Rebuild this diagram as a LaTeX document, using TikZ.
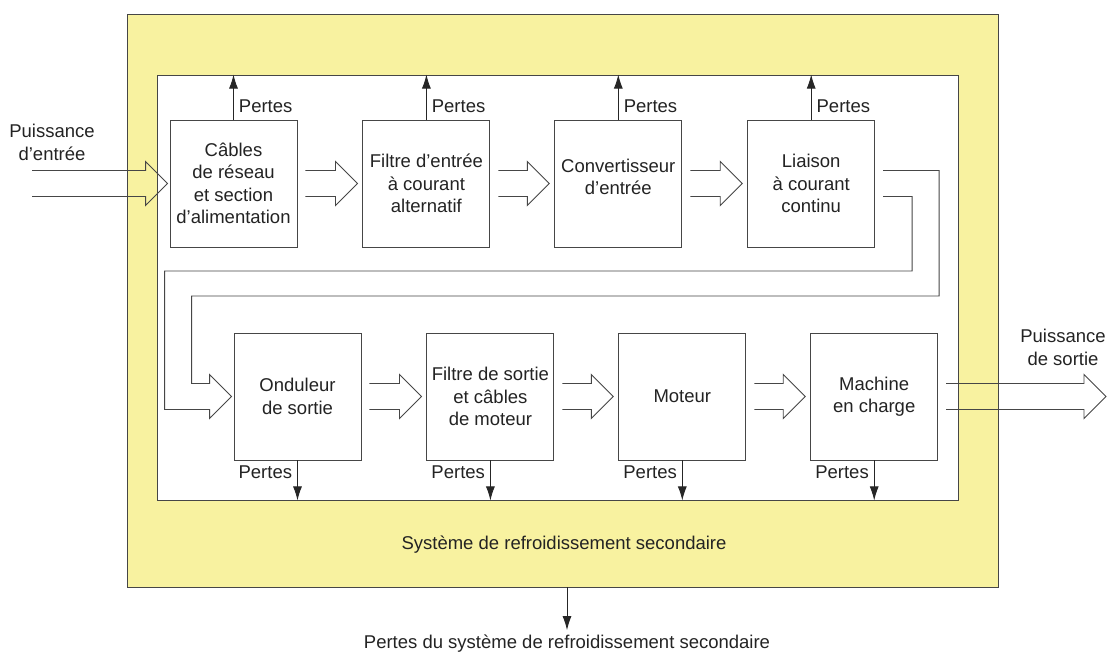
\documentclass[tikz,border=0pt]{standalone}
\usepackage{fontspec}
\setmainfont{Liberation Sans}
\usepackage{tikz}
\usetikzlibrary{positioning,calc,arrows.meta}
\definecolor{coolYellow}{RGB}{248,242,160}
\definecolor{lineGray}{RGB}{70,70,70}
\definecolor{textDark}{RGB}{35,35,35}

% hollow power-flow arrow: start point, its x-offset, target point, x-offset of the tip
\newcommand\flowarrow[4]{%
  \draw[flow] ($(#1)+(#2,-13)$) -- ($(#3)+(#4-22,-13)$) -- ++(0,-9)
    -- ($(#3)+(#4,0)$) -- ($(#3)+(#4-22,22)$) -- ++(0,-9) -- ($(#1)+(#2,13)$);}

\begin{document}
\begin{tikzpicture}[
  x=1pt,y=-1pt,
  font=\fontsize{18.5}{22.3}\selectfont,
  text=textDark,
  coolbox/.style={rectangle,draw=lineGray,fill=coolYellow,line width=0.9pt,minimum width=871pt,minimum height=573pt},
  innerbox/.style={rectangle,draw=lineGray,fill=white,line width=0.9pt,minimum width=801pt,minimum height=425pt},
  block/.style={rectangle,draw=lineGray,fill=white,line width=0.9pt,minimum width=127pt,minimum height=127pt,inner sep=1pt,align=center},
  flow/.style={draw=lineGray,line width=0.9pt},
  loss/.style={-{Latex[length=14pt,width=9pt]},draw=black!85,line width=0.9pt},
  lbl/.style={inner sep=5pt,align=center}
]
  \useasboundingbox (0,0) rectangle (1108,653);

  % cooling enclosure
  \node[coolbox] (cool) at (562.5,300.5) {};
  \node[innerbox] (inner) at (557.5,287.5) {};
  \node (sys) at (564,545) {Système de refroidissement secondaire};

  % upper chain
  \node[block] (cab) at (233.5,183.5) {Câbles\\de réseau\\et section\\d’alimentation};
  \node[block,right=65pt of cab] (fil) {Filtre d’entrée\\à courant\\alternatif};
  \node[block,right=64pt of fil,text depth=14pt] (conv) {Convertisseur\\d’entrée};
  \node[block,right=65pt of conv] (liai) {Liaison\\à courant\\continu};

  % lower chain
  \node[block] (ond) at (297.5,396.5) {Onduleur\\de sortie};
  \node[block,right=65pt of ond] (fsor) {Filtre de sortie\\et câbles\\de moteur};
  \node[block,right=64pt of fsor] (mot) {Moteur};
  \node[block,right=64pt of mot] (mach) {Machine\\en charge};

  % power in / out
  \coordinate (pin) at (32,183.5);
  \coordinate (pout) at (1106,396.5);
  \node[lbl] (pinlbl) at (52,142.5) {Puissance\\d’entrée};
  \node[lbl] (poutlbl) at (1063,347.5) {Puissance\\de sortie};

  \flowarrow{pin}{0}{cab.west}{-2}
  \flowarrow{cab.east}{8}{fil.west}{-5}
  \flowarrow{fil.east}{8}{conv.west}{-5}
  \flowarrow{conv.east}{8}{liai.west}{-5}
  \flowarrow{ond.east}{8}{fsor.west}{-5}
  \flowarrow{fsor.east}{8}{mot.west}{-5}
  \flowarrow{mot.east}{8}{mach.west}{-5}
  \flowarrow{mach.east}{8}{pout}{0}

  % DC link folds back to the output inverter
  \draw[flow] ($(liai.east)+(8,-13)$) -- ++(56,0) |- ($(ond.west)+(-42,-100.5)$)
    -- ++(0,87.5) -- ++(18,0) -- ++(0,-9) -- ($(ond.west)+(-2,0)$)
    -- ++(-22,22) -- ++(0,-9) -- ++(-45,0) |- ($(liai.east)+(37,87.5)$)
    |- ($(liai.east)+(8,13)$);

  % losses
  \foreach \b in {cab,fil,conv,liai}
    \draw[loss] (\b.north) -- node[pos=0.3,right,lbl]{Pertes} (\b.north |- inner.north);
  \foreach \b in {ond,fsor,mot,mach}
    \draw[loss] (\b.south) -- node[pos=0.3,left,lbl]{Pertes} (\b.south |- inner.south);

  \node[lbl] (coolloss) at (567,644) {Pertes du système de refroidissement secondaire};
  \draw[loss] (cool.south -| coolloss.north) -- (coolloss.north);
\end{tikzpicture}
\end{document}
